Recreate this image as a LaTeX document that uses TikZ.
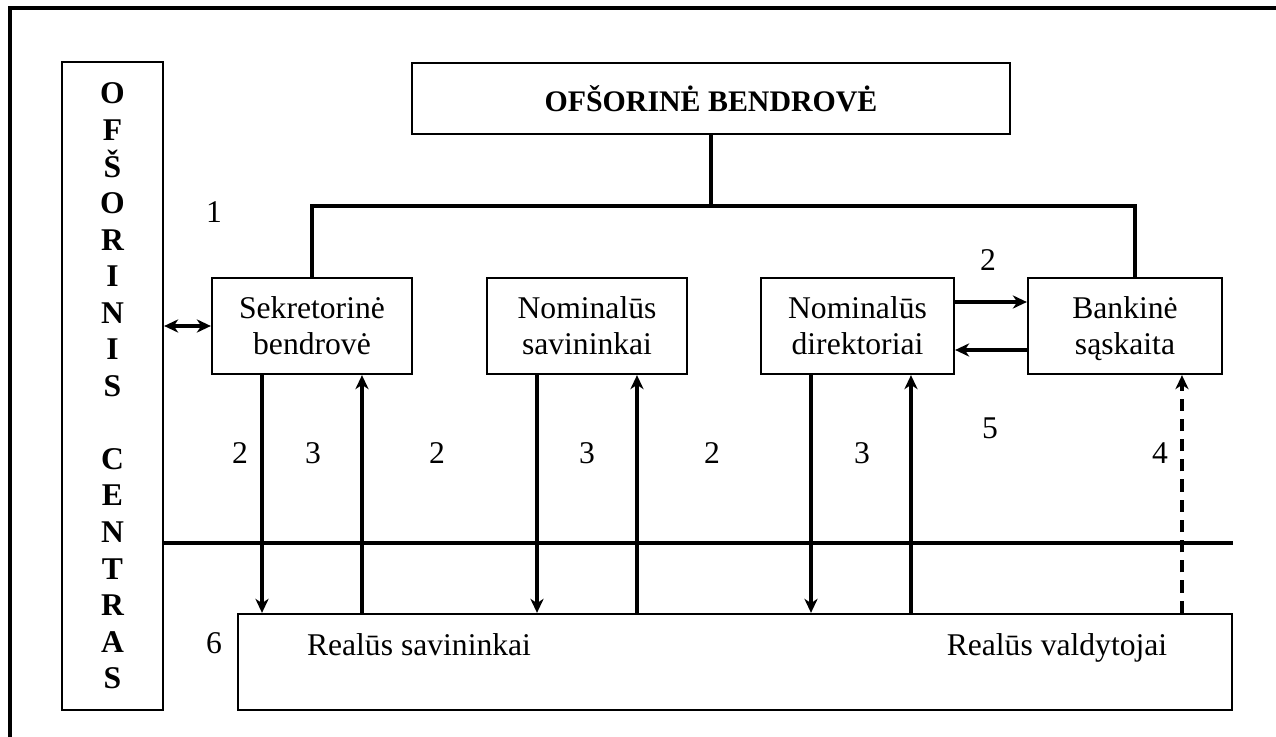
\documentclass[tikz,border=0pt]{standalone}
\usepackage{fontspec}
\setmainfont{Liberation Serif}
\usetikzlibrary{arrows.meta}

\begin{document}
\begin{tikzpicture}
    [x=0.02cm, y=-0.02cm, >={Stealth[length=8pt,width=7.5pt,inset=2.5pt]},
     every node/.style={font=\fontsize{18}{20.5}\selectfont},
     box/.style={draw, line width=1.3pt, align=center, inner sep=0pt},
     link/.style={line width=2pt},
     num/.style={inner sep=0pt}]

    \useasboundingbox (0,0) rectangle (1276,737);

    % frame
    \draw[line width=2.3pt] (10,737) -- (10,8) -- (1276,8);

    \node[box, minimum width=11.96cm, minimum height=1.42cm,
          font=\fontsize{17}{20}\selectfont\bfseries] (bendrove) at (711,98.5) {OFŠORINĖ BENDROVĖ};
    \node[box, minimum width=2.02cm, minimum height=12.96cm,
          font=\fontsize{18}{20.8}\selectfont\bfseries] (centras) at (112.5,386)
          {O\\F\\Š\\O\\R\\I\\N\\I\\S\\[20.8pt]C\\E\\N\\T\\R\\A\\S};

    \node[box, minimum width=4cm, minimum height=1.92cm] (sekr) at (312,326) {Sekretorinė\\bendrovė};
    \node[box, minimum width=4cm, minimum height=1.92cm] (nomsav) at (587,326) {Nominalūs\\savininkai};
    \node[box, minimum width=3.86cm, minimum height=1.92cm] (nomdir) at (857.5,326) {Nominalūs\\direktoriai};
    \node[box, minimum width=3.88cm, minimum height=1.92cm] (bank) at (1125,326) {Bankinė\\s\smash{ą}skaita};

    \node[box, minimum width=19.88cm, minimum height=1.92cm] (realus) at (735,662) {};
    \node[anchor=base, inner sep=0pt] (rsav) at (419,655) {Realūs savininkai};
    \node[anchor=base, inner sep=0pt] (rval) at (1057,655) {Realūs valdytojai};

    \coordinate (bus) at (711,206);
    \coordinate (divide) at (700,543);

    % numbers
    \node[num] (l1) at (214,212) {1};
    \node[num] (l2top) at (988,260) {2};
    \node[num] (l2a) at (240,453) {2};
    \node[num] (l3a) at (313,453) {3};
    \node[num] (l2b) at (437,453) {2};
    \node[num] (l3b) at (587,453) {3};
    \node[num] (l2c) at (712,453) {2};
    \node[num] (l3c) at (862,453) {3};
    \node[num] (l5) at (990,428) {5};
    \node[num] (l4) at (1160,453) {4};
    \node[num] (l6) at (214,643) {6};

    \draw[link] (bendrove.south) -- (bus);
    \draw[link] (sekr.north) |- (bus) -| ([xshift=0.2cm]bank.north);
    \draw[link, <->] (centras.east |- sekr.west) -- (sekr.west);

    \draw[link] (centras.east |- divide) -- (realus.east |- divide);

    \draw[link, ->] ([yshift=0.48cm]nomdir.east) -- ([yshift=0.48cm]nomdir.east -| bank.west);
    \draw[link, ->] ([yshift=-0.48cm]bank.west) -- ([yshift=-0.48cm]bank.west -| nomdir.east);

    \draw[link, ->] ([xshift=-1cm]sekr.south) -- ([xshift=-1cm]sekr.south |- realus.north);
    \draw[link, ->] ([xshift=1cm]sekr.south |- realus.north) -- ([xshift=1cm]sekr.south);
    \draw[link, ->] ([xshift=-1cm]nomsav.south) -- ([xshift=-1cm]nomsav.south |- realus.north);
    \draw[link, ->] ([xshift=1cm]nomsav.south |- realus.north) -- ([xshift=1cm]nomsav.south);
    \draw[link, ->] ([xshift=-0.93cm]nomdir.south) -- ([xshift=-0.93cm]nomdir.south |- realus.north);
    \draw[link, ->] ([xshift=1.07cm]nomdir.south |- realus.north) -- ([xshift=1.07cm]nomdir.south);
    \draw[link, ->, dash pattern=on 7pt off 4.5pt] ([xshift=1.14cm]bank.south |- realus.north) -- ([xshift=1.14cm]bank.south);
\end{tikzpicture}
\end{document}
